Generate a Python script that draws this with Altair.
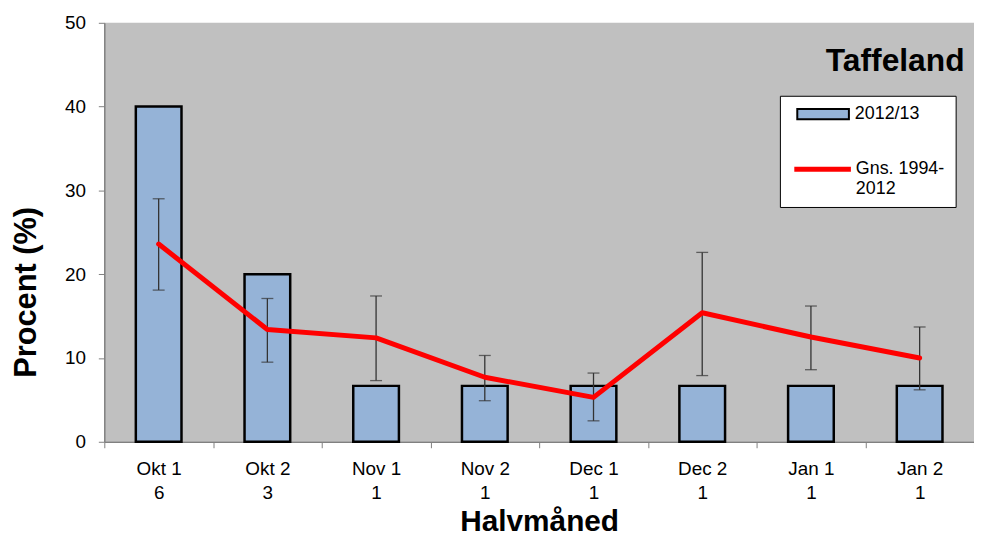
import altair as alt
import pandas as pd

categories = ["Okt 1", "Okt 2", "Nov 1", "Nov 2", "Dec 1", "Dec 2", "Jan 1", "Jan 2"]
counts = [6, 3, 1, 1, 1, 1, 1, 1]
season_pct = [40.0, 20.0, 6.67, 6.67, 6.67, 6.67, 6.67, 6.67]
avg_pct = [23.6, 13.4, 12.4, 7.7, 5.3, 15.4, 12.5, 10.0]
err_low = [18.1, 9.5, 7.3, 4.9, 2.5, 7.9, 8.6, 6.2]
err_high = [29.0, 17.1, 17.4, 10.3, 8.2, 22.6, 16.2, 13.7]

FONT = "Liberation Sans"

df = pd.DataFrame({
    "cat": [f"{c}|{n}" for c, n in zip(categories, counts)],
    "bar": season_pct,
    "avg": avg_pct,
    "lo": err_low,
    "hi": err_high,
    "s1": "2012/13",
    "s2": "Gns. 1994-2012",
})

order = list(df["cat"])

x = alt.X(
    "cat:N",
    sort=order,
    scale=alt.Scale(paddingInner=0, paddingOuter=0),
    axis=alt.Axis(
        title="Halvmåned",
        labelAngle=0,
        labelExpr="split(datum.label, '|')",
        labelFontSize=19,
        labelLineHeight=24,
        labelPadding=12,
        tickBand="extent",
        tickSize=6,
        titleFontSize=30,
        titleFontWeight="bold",
        titlePadding=4,
    ),
)

y_scale = alt.Scale(domain=[0, 50])

base = alt.Chart(df)

bars = base.mark_bar(size=46, stroke="black", strokeWidth=2.5).encode(
    x=x,
    y=alt.Y(
        "bar:Q",
        scale=y_scale,
        axis=alt.Axis(
            title="Procent (%)",
            values=[0, 10, 20, 30, 40, 50],
            grid=False,
            labelFontSize=19,
            tickSize=6,
            labelPadding=13,
            titleFontSize=31,
            titleFontWeight="bold",
            titlePadding=22,
            titleY=271,
        ),
    ),
    fill=alt.Fill(
        "s1:N",
        scale=alt.Scale(domain=["2012/13"], range=["#95B3D7"]),
        legend=alt.Legend(
            title=None,
            orient="none",
            legendX=710,
            legendY=78,
            padding=0,
            symbolType="M-2,-0.4L2,-0.4L2,0.4L-2,0.4Z",
            symbolSize=676,
            symbolStrokeColor="black",
            symbolStrokeWidth=2,
            symbolOpacity=1,
            labelFontSize=18,
            labelOffset=18,
        ),
    ),
)

rules = base.mark_rule(color="#333333", strokeWidth=1.3).encode(
    x=x, y=alt.Y("lo:Q", scale=y_scale), y2="hi:Q"
)
caps_lo = base.mark_tick(color="#333333", size=12, thickness=1.3, orient="horizontal").encode(
    x=x, y=alt.Y("lo:Q", scale=y_scale)
)
caps_hi = base.mark_tick(color="#333333", size=12, thickness=1.3, orient="horizontal").encode(
    x=x, y=alt.Y("hi:Q", scale=y_scale)
)

line = base.mark_line(strokeWidth=5, strokeCap="round", strokeJoin="round").encode(
    x=x,
    y=alt.Y("avg:Q", scale=y_scale),
    stroke=alt.Stroke(
        "s2:N",
        scale=alt.Scale(domain=["Gns. 1994-2012"], range=["#FF0000"]),
        legend=alt.Legend(
            title=None,
            orient="none",
            legendX=692,
            legendY=116,
            padding=0,
            symbolType="stroke",
            symbolSize=3250,
            symbolStrokeWidth=5,
            labelFontSize=18,
            labelOffset=2,
            labelExpr="datum.label == 'Gns. 1994-2012' ? ['Gns. 1994-', '2012'] : datum.label",
        ),
    ),
)

legend_box = alt.Chart(pd.DataFrame({"a": [0]})).mark_rect(
    fill="white", stroke="black", strokeWidth=1
).encode(
    x=alt.value(681), x2=alt.value(858), y=alt.value(74), y2=alt.value(186)
)

chart = (
    alt.layer(bars, rules, caps_lo, caps_hi, line, legend_box)
    .properties(
        width=876,
        height=422,
        autosize=alt.AutoSizeParams(type="none"),
        padding={"left": 97, "top": 13, "right": 0, "bottom": 94},
        title=alt.TitleParams(
            "Taffeland",
            anchor="end",
            orient="top",
            fontSize=32,
            fontWeight="bold",
            font=FONT,
            baseline="alphabetic",
            offset=0,
            dy=90,
            dx=-10,
        ),
    )
    .configure_view(fill="#C0C0C0", stroke=None)
    .configure_axis(
        labelFont=FONT,
        titleFont=FONT,
        labelColor="black",
        titleColor="black",
        domainColor="#808080",
        tickColor="#808080",
        domainWidth=1.5,
    )
    .configure_legend(labelFont=FONT, labelColor="black")
)

chart.save("out.html", embed_options={"renderer": "svg", "actions": False})
